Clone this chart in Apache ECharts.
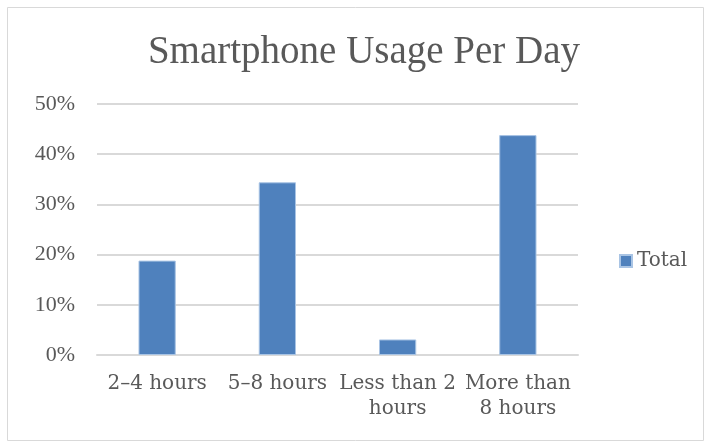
<!DOCTYPE html>
<html>
<head>
<meta charset="utf-8">
<script src="https://cdn.jsdelivr.net/npm/echarts@6/dist/echarts.min.js"></script>
<style>
html,body{margin:0;padding:0;background:#fff;}
#c{width:706px;height:443px;}
</style>
</head>
<body>
<div id="c"></div>
<script>
var categories = ['2–4 hours', '5–8 hours', 'Less than 2\nhours', 'More than\n8 hours'];
var totalValues = [0.188, 0.344, 0.031, 0.438];
var seriesName = 'Total';
var yTicks = [0, 0.1, 0.2, 0.3, 0.4, 0.5];

var FONT = '"Liberation Serif", "DejaVu Serif", serif';
var WIDE = '"DejaVu Serif", "Liberation Serif", serif';
var chart = echarts.init(document.getElementById('c'), null, {renderer: 'canvas'});
chart.setOption({
  animation: false,
  backgroundColor: '#fff',
  title: {
    text: 'Smartphone Usage Per Day',
    left: 364, top: 33, textAlign: 'center', padding: 0,
    textStyle: {fontFamily: FONT, fontSize: 39, fontWeight: 'normal', color: '#595959'}
  },
  legend: {
    data: [seriesName],
    left: 619, top: 251, padding: 0,
    itemWidth: 12, itemHeight: 12, itemGap: 5,
    icon: 'rect',
    textStyle: {fontFamily: WIDE, fontSize: 20, color: '#595959'}
  },
  grid: {left: 97, right: 128, top: 104, bottom: 88, containLabel: false},
  xAxis: {
    type: 'category',
    data: categories,
    axisLine: {lineStyle: {color: '#d9d9d9', width: 2}},
    axisTick: {show: false},
    axisLabel: {fontFamily: WIDE, fontSize: 20, color: '#595959', margin: 16, lineHeight: 25, interval: 0}
  },
  yAxis: {
    type: 'value',
    min: yTicks[0], max: yTicks[yTicks.length - 1], interval: 0.1,
    axisLine: {show: false},
    axisTick: {show: false},
    splitLine: {lineStyle: {color: '#d9d9d9', width: 2}},
    axisLabel: {fontFamily: FONT, fontSize: 22, color: '#595959', margin: 22,
      formatter: function (v) { return Math.round(v * 100) + '%'; }}
  },
  series: [{
    name: seriesName,
    type: 'bar',
    data: totalValues,
    barWidth: '31%',
    itemStyle: {color: '#4F81BD', borderColor: '#a9c4e4', borderWidth: 1}
  }],
  graphic: [{
    type: 'rect', silent: true,
    shape: {x: 7.5, y: 7.5, width: 696, height: 433},
    style: {fill: null, stroke: '#d9d9d9', lineWidth: 1}
  }]
});
</script>
</body>
</html>
